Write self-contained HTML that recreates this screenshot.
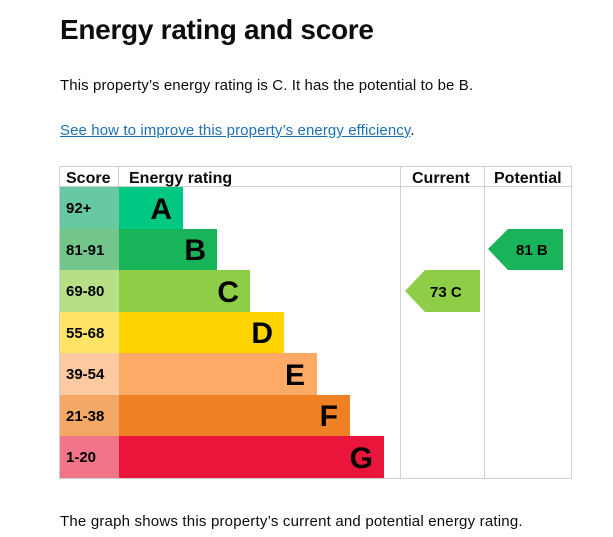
<!DOCTYPE html>
<html><head><meta charset="utf-8"><style>
body{margin:0;background:#fff;width:613px;height:537px;overflow:hidden;font-family:"Liberation Sans",sans-serif;color:#0b0c0c}
.t{position:absolute;left:60px;top:14px;font-size:28px;font-weight:bold;letter-spacing:-0.3px}
.p{position:absolute;left:60px;font-size:15px;letter-spacing:0.1px}
a{color:#1d70b8;text-decoration:underline}
svg{position:absolute;left:0;top:0}
</style></head><body>
<div class="t">Energy rating and score</div>
<div class="p" style="top:77px">This property’s energy rating is C. It has the potential to be B.</div>
<div class="p" style="top:122px"><a>See how to improve this property’s energy efficiency</a>.</div>
<div class="p" style="top:513px;letter-spacing:0.2px">The graph shows this property’s current and potential energy rating.</div>
<svg width="613" height="537" font-family="Liberation Sans, sans-serif" font-weight="bold">
<g fill="none" stroke="#d0d0d0" stroke-width="1">
<rect x="59.5" y="166.5" width="512" height="312"/>
<line x1="59.5" y1="186.5" x2="571.5" y2="186.5"/>
<line x1="400.5" y1="166.5" x2="400.5" y2="478.5"/>
<line x1="484.5" y1="166.5" x2="484.5" y2="478.5"/>
<line x1="118.5" y1="166.5" x2="118.5" y2="186.5"/>
</g>
<g font-size="16" fill="#0b0c0c">
<text x="66" y="183">Score</text>
<text x="129" y="183">Energy rating</text>
<text x="412" y="183">Current</text>
<text x="494" y="183">Potential</text>
</g>
<g font-size="15">
<rect x="60" y="187" width="59" height="42" fill="#66c9a1"/><rect x="119" y="187" width="64" height="42" fill="#00c781"/>
<rect x="60" y="229" width="59" height="41" fill="#73c68b"/><rect x="119" y="229" width="98" height="41" fill="#19b459"/>
<rect x="60" y="270" width="59" height="42" fill="#b6df86"/><rect x="119" y="270" width="131" height="42" fill="#8dce46"/>
<rect x="60" y="312" width="59" height="41" fill="#ffe468"/><rect x="119" y="312" width="165" height="41" fill="#ffd500"/>
<rect x="60" y="353" width="59" height="42" fill="#fdc9a0"/><rect x="119" y="353" width="198" height="42" fill="#fcaa65"/>
<rect x="60" y="395" width="59" height="41" fill="#f3a866"/><rect x="119" y="395" width="231" height="41" fill="#ef8023"/>
<rect x="60" y="436" width="59" height="42" fill="#f27488"/><rect x="119" y="436" width="265" height="42" fill="#e9153b"/>
<text x="66" y="213">92+</text>
<text x="66" y="255">81-91</text>
<text x="66" y="296">69-80</text>
<text x="66" y="338">55-68</text>
<text x="66" y="379">39-54</text>
<text x="66" y="421">21-38</text>
<text x="66" y="462">1-20</text>
</g>
<g font-size="30" text-anchor="end">
<text x="172" y="219">A</text>
<text x="206" y="260">B</text>
<text x="239" y="302">C</text>
<text x="273" y="343">D</text>
<text x="305" y="385">E</text>
<text x="338" y="426">F</text>
<text x="373" y="468">G</text>
</g>
<polygon points="405,291 425,270 480,270 480,312 425,312" fill="#8dce46"/>
<text x="430" y="297" font-size="15">73  C</text>
<polygon points="488,249 508,229 563,229 563,270 508,270" fill="#19b459"/>
<text x="516" y="255" font-size="15">81  B</text>
</svg>
</body></html>
